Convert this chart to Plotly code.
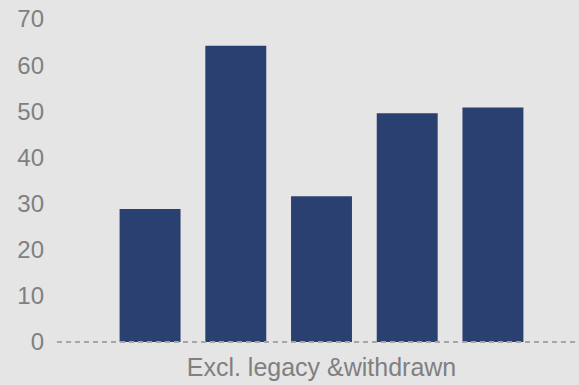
import plotly.graph_objects as go

category = ["Excl. legacy &withdrawn"]
series_names = ["S1", "S2", "S3", "S4", "S5"]
series_values = [28.8, 64.2, 31.6, 49.6, 50.8]
y_ticks = [0, 10, 20, 30, 40, 50, 60, 70]

bar_color = "#2a4071"
bg = "#e5e5e5"
txt = "#808080"

fig = go.Figure()
for name, v in zip(series_names, series_values):
    fig.add_trace(go.Bar(x=category, y=[v], name=name, marker_color=bar_color,
                         marker_line_width=0))

fig.add_shape(type="line", xref="paper", yref="paper", x0=0, x1=1, y0=0, y1=0,
              line=dict(color="#a6a6a6", width=2, dash="5px,4px"), layer="above")

fig.update_layout(
    width=579, height=385,
    margin=dict(l=57, r=0, t=19, b=43, pad=0),
    paper_bgcolor=bg, plot_bgcolor=bg,
    barmode="group", bargap=0.179, bargroupgap=0.289,
    showlegend=False,
    font=dict(family="Liberation Sans, Arial, sans-serif", color=txt, size=24),
)
fig.update_xaxes(range=[-0.5067, 0.4933], showgrid=False, zeroline=False, showline=False,
                 ticks="", tickfont=dict(size=25, color=txt), ticklabelstandoff=8)
fig.update_yaxes(range=[0, 70], tickvals=y_ticks, showgrid=False, zeroline=False,
                 showline=False, ticks="", tickfont=dict(size=24, color=txt),
                 ticklabelstandoff=12)

fig.write_html("out.html")
